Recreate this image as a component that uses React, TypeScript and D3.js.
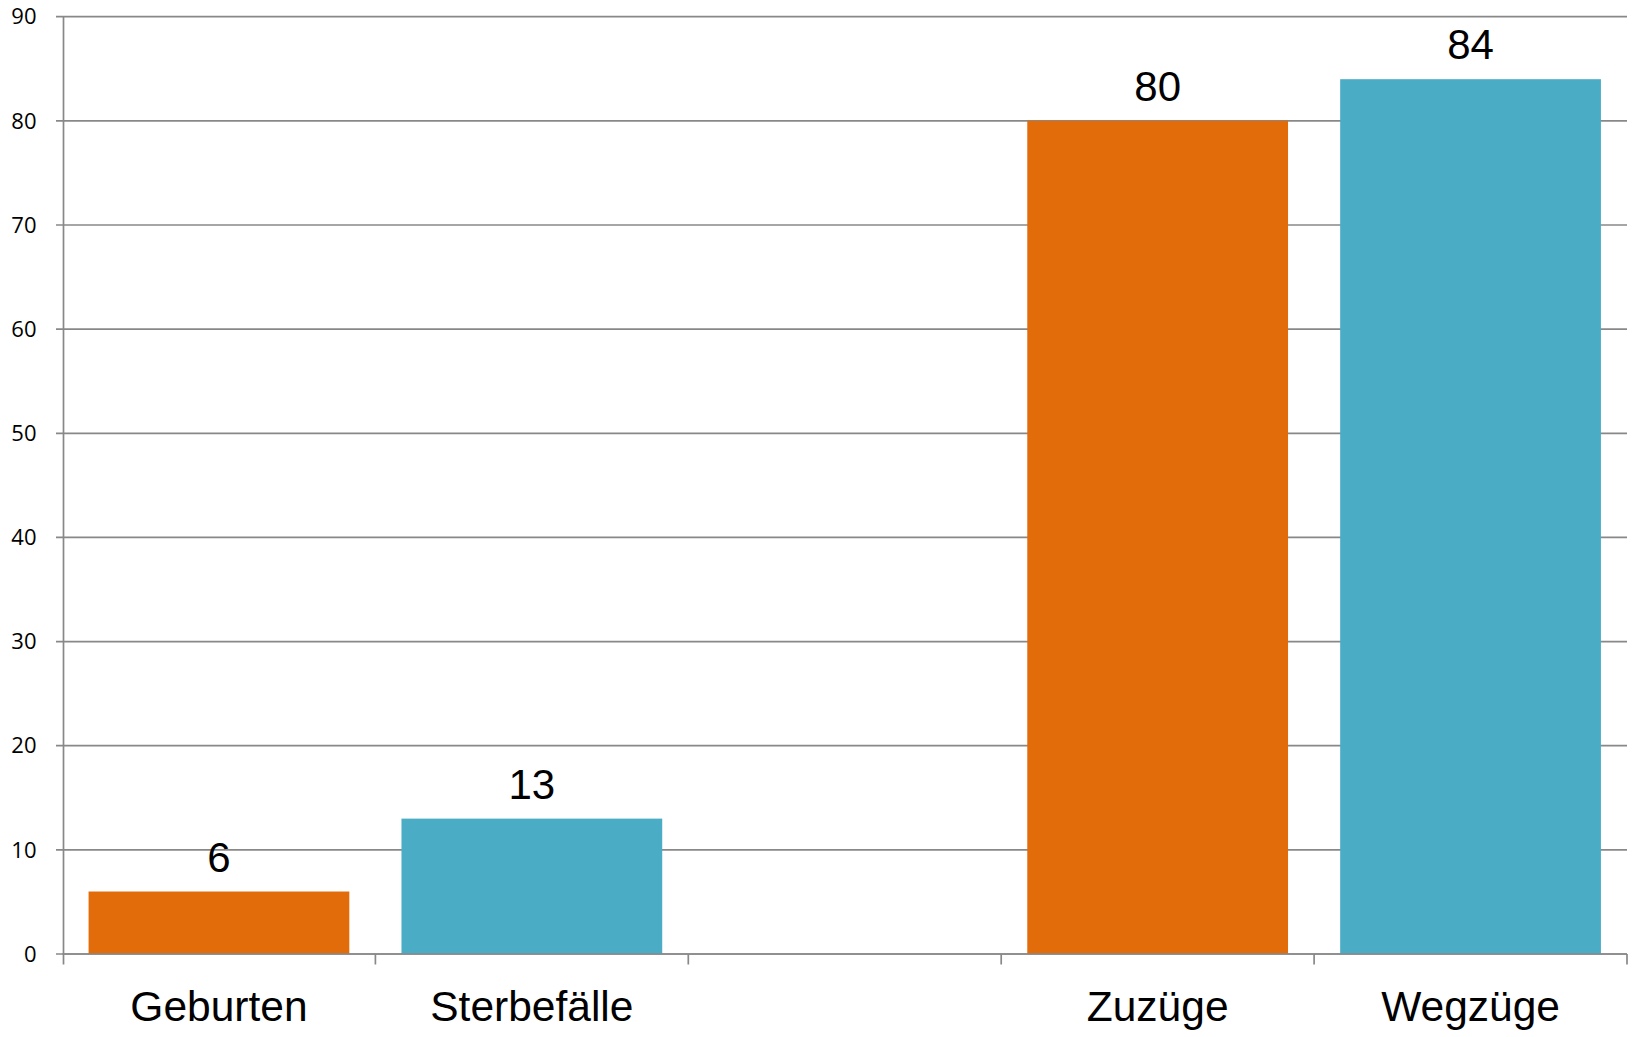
import React from "react";
import * as d3 from "d3";

const categories = ["Geburten", "Sterbefälle", "", "Zuzüge", "Wegzüge"];
const values: (number | null)[] = [6, 13, null, 80, 84];
const barColors = ["#E36C0A", "#4BACC6", "#E36C0A", "#E36C0A", "#4BACC6"];
const yTicks = [0, 10, 20, 30, 40, 50, 60, 70, 80, 90];

const W = 1633;
const H = 1037;
const M = { left: 62.5, right: 6, top: 16.7, bottom: 83 };

export default function App() {
  const innerP = 1 / 6;
  const x = d3
    .scaleBand<string>()
    .domain(categories.map((c, i) => String(i)))
    .range([M.left, W - M.right])
    .paddingInner(innerP)
    .paddingOuter(innerP / 2);
  const y = d3.scaleLinear().domain([0, 90]).range([H - M.bottom, M.top]);
  const step = x.step();
  const bw = x.bandwidth();
  const boundaries = d3.range(categories.length + 1).map((i) => M.left + i * step);
  const grid = "#888888";

  return (
    <svg
      width={W}
      height={H}
      style={{ position: "absolute", left: 0, top: 0, background: "#fff" }}
      fontFamily="'Liberation Sans', Arial, sans-serif"
    >
      {yTicks.map((t) => (
        <g key={t}>
          <line x1={M.left - 6.5} x2={W - M.right} y1={y(t)} y2={y(t)} stroke={grid} strokeWidth={1.7} />
          <text
            x={M.left - 26}
            y={y(t)}
            dy="0.35em"
            textAnchor="end"
            fontSize={22}
            fontFamily="'Open Sans', sans-serif"
            fill="#000"
          >
            {t}
          </text>
        </g>
      ))}
      {values.map((v, i) =>
        v == null ? null : (
          <g key={i}>
            <rect
              x={x(String(i))!}
              y={y(v)}
              width={bw}
              height={y(0) - y(v)}
              fill={barColors[i]}
            />
            <text
              x={x(String(i))! + bw / 2}
              y={y(v) - 20}
              textAnchor="middle"
              fontSize={42}
              fill="#000"
            >
              {v}
            </text>
          </g>
        )
      )}
      <line x1={M.left + 1} x2={M.left + 1} y1={M.top} y2={y(0) + 10.5} stroke={grid} strokeWidth={1.7} />
      <line x1={M.left} x2={W - M.right} y1={y(0)} y2={y(0)} stroke={grid} strokeWidth={1.7} />
      {boundaries.slice(1).map((b, i) => (
        <line key={i} x1={b} x2={b} y1={y(0)} y2={y(0) + 10.5} stroke={grid} strokeWidth={1.7} />
      ))}
      {categories.map((c, i) => (
        <text
          key={i}
          x={x(String(i))! + bw / 2}
          y={y(0) + 67}
          textAnchor="middle"
          fontSize={42.5}
          fill="#000"
        >
          {c}
        </text>
      ))}
    </svg>
  );
}
